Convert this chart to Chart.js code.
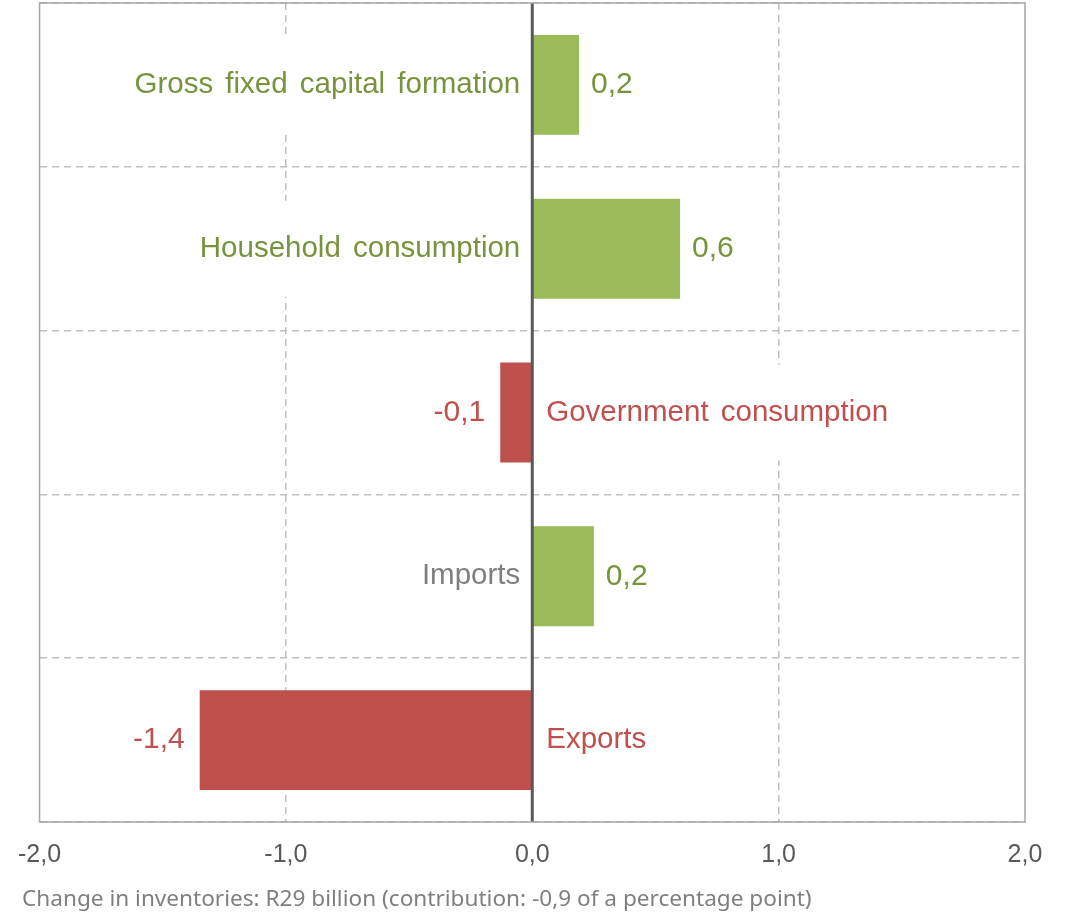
<!DOCTYPE html>
<html>
<head>
<meta charset="utf-8">
<script src="https://cdn.jsdelivr.net/npm/chart.js@4"></script>
<style>
  html, body { margin: 0; padding: 0; background: #fff; }
  canvas { display: block; }
</style>
</head>
<body>
<canvas id="contribChart" width="1066" height="917"></canvas>
<script>
const categories = ['Gross fixed capital formation', 'Household consumption', 'Government consumption', 'Imports', 'Exports'];
const values = [0.19, 0.60, -0.13, 0.25, -1.35];
const valueLabels = ['0,2', '0,6', '-0,1', '0,2', '-1,4'];
const xTicks = [-2, -1, 0, 1, 2];
const footnote = 'Change in inventories: R29 billion (contribution: -0,9 of a percentage point)';

const GREEN = '#9BBB59';
const GREEN_TEXT = '#77933C';
const RED = '#C0504D';
const GRAY_TEXT = '#7F7F7F';

// bar colour by sign, category label colour (imports is grey in the original)
const barColors = values.map(v => v >= 0 ? GREEN : RED);
const labelColors = categories.map((c, i) => c === 'Imports' ? GRAY_TEXT : (values[i] >= 0 ? GREEN_TEXT : RED));
const valueColors = values.map(v => v >= 0 ? GREEN_TEXT : RED);

const FONT = '"Liberation Sans", Arial, sans-serif';

const labelsPlugin = {
  id: 'labels',
  afterDatasetsDraw(chart) {
    const { ctx, chartArea, scales } = chart;
    const meta = chart.getDatasetMeta(0);
    const zero = scales.x.getPixelForValue(0);
    ctx.save();
    ctx.textBaseline = 'middle';
    meta.data.forEach((bar, i) => {
      const y = bar.y;
      const pos = values[i] >= 0;
      const name = categories[i];

      // category name on the other side of zero, white box hides the grid
      ctx.font = '29.5px ' + FONT;
      ctx.wordSpacing = '4px';
      const w = ctx.measureText(name).width;
      let tx, align;
      if (pos) { tx = zero - 12; align = 'right'; } else { tx = zero + 14; align = 'left'; }
      const boxX = pos ? tx - w - 4 : tx - 4;
      ctx.fillStyle = '#fff';
      ctx.fillRect(boxX, y - bar.height / 2 + 2, w + 8, bar.height - 4);
      ctx.fillStyle = labelColors[i];
      ctx.textAlign = align;
      ctx.fillText(name, tx, y);

      // value label at the end of the bar
      ctx.font = '30px ' + FONT;
      ctx.wordSpacing = '0px';
      ctx.fillStyle = valueColors[i];
      if (pos) {
        ctx.textAlign = 'left';
        ctx.fillText(valueLabels[i], bar.x + 12, y);
      } else {
        ctx.textAlign = 'right';
        ctx.fillText(valueLabels[i], bar.x - 15, y);
      }
    });

    // zero line
    ctx.strokeStyle = '#595959';
    ctx.lineWidth = 3;
    ctx.beginPath();
    ctx.moveTo(zero, chartArea.top);
    ctx.lineTo(zero, chartArea.bottom);
    ctx.stroke();

    // plot frame
    ctx.strokeStyle = '#A6A6A6';
    ctx.lineWidth = 1.5;
    ctx.strokeRect(chartArea.left, chartArea.top, chartArea.right - chartArea.left, chartArea.bottom - chartArea.top);
    ctx.restore();
  },
  afterDraw(chart) {
    const { ctx } = chart;
    ctx.save();
    ctx.font = '19px "Noto Sans", "Open Sans", sans-serif';
    // squeeze to the width of the original note
    const target = 790;
    const w = ctx.measureText(footnote).width;
    const size = 19 * target / w;
    ctx.font = size.toFixed(2) + 'px "Noto Sans", "Open Sans", sans-serif';
    ctx.fillStyle = GRAY_TEXT;
    ctx.textBaseline = 'middle';
    ctx.textAlign = 'left';
    ctx.fillText(footnote, 22, 900);
    ctx.restore();
  }
};

const ctx = document.getElementById('contribChart').getContext('2d');
new Chart(ctx, {
  type: 'bar',
  data: {
    labels: categories,
    datasets: [{
      data: values,
      backgroundColor: barColors,
      borderWidth: 0,
      barPercentage: 0.61,
      categoryPercentage: 1.0
    }]
  },
  options: {
    indexAxis: 'y',
    responsive: false,
    animation: false,
    layout: { padding: { left: 38, right: 41, top: 3, bottom: 0 } },
    plugins: {
      legend: { display: false },
      tooltip: { enabled: false }
    },
    scales: {
      x: {
        min: -2,
        max: 2,
        afterBuildTicks: scale => { scale.ticks = xTicks.map(v => ({ value: v })); },
        afterFit: scale => { scale.height = 95; },
        ticks: {
          padding: 18,
          color: '#595959',
          font: { family: FONT, size: 25 },
          callback: v => Number(v).toFixed(1).replace('.', ',')
        },
        grid: {
          drawTicks: false,
          lineWidth: 1.5,
          color: c => (c.tick && Math.abs(c.tick.value) === 1) ? '#BFBFBF' : 'rgba(0,0,0,0)'
        },
        border: { display: false, dash: [7, 5] }
      },
      y: {
        afterFit: scale => { scale.width = 0; },
        ticks: { display: false },
        grid: {
          drawTicks: false,
          offset: true,
          lineWidth: 1.5,
          color: '#BFBFBF'
        },
        border: { display: false, dash: [7, 5] }
      }
    }
  },
  plugins: [labelsPlugin]
});
</script>
</body>
</html>
